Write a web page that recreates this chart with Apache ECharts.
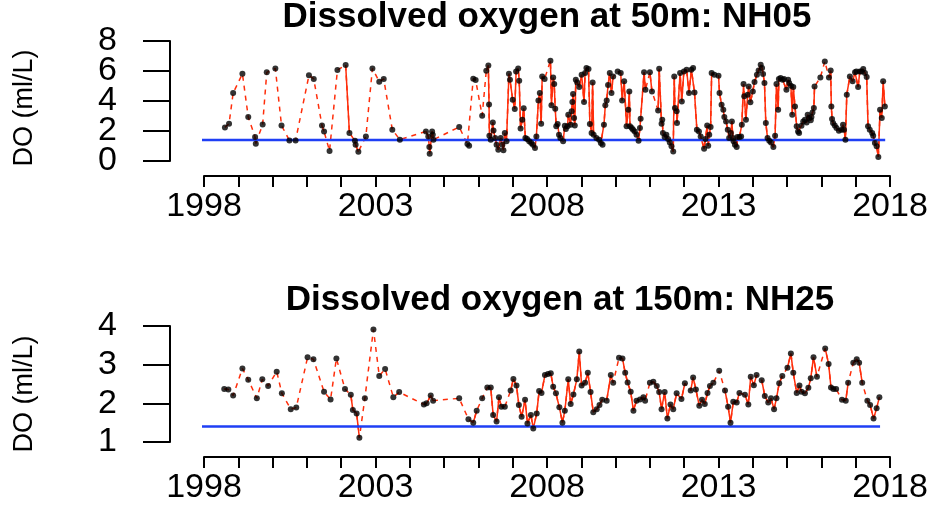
<!DOCTYPE html>
<html>
<head>
<meta charset="utf-8">
<script src="https://cdn.jsdelivr.net/npm/echarts@6/dist/echarts.min.js"></script>
<style>
  html, body { margin: 0; padding: 0; background: #fff; }
  #chart { width: 932px; height: 509px; }
</style>
</head>
<body>
<div id="chart"></div>
<script>
// Station NH05, 50 m: sample dates (decimal years) and dissolved oxygen (ml/L)
const t50 = [
  1998.61, 1998.73, 1998.85, 1999.12, 1999.29, 1999.49, 1999.51, 1999.71, 1999.83, 2000.08,
  2000.26, 2000.49, 2000.67, 2001.06, 2001.20, 2001.44, 2001.50, 2001.66, 2001.89, 2002.13,
  2002.24, 2002.40, 2002.42, 2002.50, 2002.72, 2002.91, 2003.11, 2003.24, 2003.49, 2003.71,
  2004.47, 2004.54, 2004.57, 2004.58, 2004.65, 2004.67, 2004.69, 2005.44, 2005.68, 2005.73,
  2005.85, 2005.92, 2006.11, 2006.23, 2006.29, 2006.31, 2006.32, 2006.36, 2006.42, 2006.44,
  2006.49, 2006.53, 2006.58, 2006.65, 2006.70, 2006.73, 2006.77, 2006.82, 2006.89, 2006.92,
  2007.00, 2007.06, 2007.10, 2007.16, 2007.19, 2007.23, 2007.28, 2007.32, 2007.37, 2007.42,
  2007.48, 2007.54, 2007.59, 2007.65, 2007.69, 2007.75, 2007.79, 2007.83, 2007.86, 2007.93,
  2008.10, 2008.13, 2008.18, 2008.21, 2008.24, 2008.27, 2008.31, 2008.35, 2008.39, 2008.47,
  2008.52, 2008.55, 2008.60, 2008.62, 2008.69, 2008.72, 2008.74, 2008.76, 2008.79, 2008.81,
  2008.84, 2008.88, 2008.94, 2009.01, 2009.08, 2009.11, 2009.15, 2009.21, 2009.25, 2009.30,
  2009.33, 2009.36, 2009.44, 2009.52, 2009.57, 2009.62, 2009.66, 2009.70, 2009.74, 2009.78,
  2009.83, 2009.88, 2009.93, 2010.06, 2010.15, 2010.19, 2010.25, 2010.32, 2010.37, 2010.40,
  2010.42, 2010.47, 2010.51, 2010.56, 2010.61, 2010.67, 2010.71, 2010.73, 2010.83, 2010.87,
  2011.00, 2011.06, 2011.24, 2011.27, 2011.34, 2011.36, 2011.38, 2011.43, 2011.48, 2011.53,
  2011.58, 2011.63, 2011.68, 2011.71, 2011.73, 2011.78, 2011.79, 2011.88, 2011.93, 2011.99,
  2012.07, 2012.14, 2012.21, 2012.26, 2012.30, 2012.37, 2012.43, 2012.48, 2012.58, 2012.62,
  2012.67, 2012.70, 2012.73, 2012.77, 2012.80, 2012.88, 2013.00, 2013.03, 2013.09, 2013.14,
  2013.17, 2013.22, 2013.27, 2013.31, 2013.36, 2013.39, 2013.42, 2013.44, 2013.48, 2013.53,
  2013.55, 2013.61, 2013.66, 2013.68, 2013.73, 2013.75, 2013.80, 2013.85, 2013.88, 2013.93,
  2014.00, 2014.05, 2014.12, 2014.17, 2014.23, 2014.27, 2014.30, 2014.34, 2014.38, 2014.43,
  2014.48, 2014.53, 2014.60, 2014.65, 2014.69, 2014.74, 2014.76, 2014.81, 2014.87, 2014.91,
  2014.98, 2015.03, 2015.06, 2015.11, 2015.15, 2015.18, 2015.23, 2015.28, 2015.32, 2015.35,
  2015.42, 2015.47, 2015.52, 2015.57, 2015.60, 2015.64, 2015.69, 2015.71, 2015.74, 2015.78,
  2015.80, 2015.97, 2016.10, 2016.22, 2016.27, 2016.29, 2016.31, 2016.34, 2016.39, 2016.44,
  2016.51, 2016.59, 2016.63, 2016.66, 2016.70, 2016.74, 2016.83, 2016.91, 2016.98, 2017.02,
  2017.07, 2017.12, 2017.17, 2017.22, 2017.27, 2017.32, 2017.36, 2017.41, 2017.48, 2017.51,
  2017.56, 2017.61, 2017.66, 2017.71, 2017.76, 2017.80, 2017.85
];
const do50 = [
  2.24, 2.49, 4.53, 5.82, 2.93, 1.60, 1.15, 2.44, 5.91, 6.17,
  2.37, 1.37, 1.37, 5.71, 5.47, 2.37, 1.97, 0.67, 6.07, 6.40,
  1.87, 1.35, 1.09, 0.62, 1.64, 6.17, 5.29, 5.47, 2.09, 1.42,
  1.97, 1.64, 0.93, 0.49, 1.97, 1.75, 1.42, 2.27, 1.13, 1.02,
  5.49, 5.40, 3.02, 6.02, 6.37, 3.77, 1.69, 1.42, 2.57, 2.04,
  1.53, 1.09, 0.75, 1.53, 1.09, 0.71, 1.87, 1.31, 5.82, 5.42,
  4.09, 3.47, 5.97, 6.17, 5.35, 2.17, 2.75, 3.51, 1.53, 1.47,
  1.31, 1.20, 1.09, 0.87, 1.64, 4.04, 4.53, 2.49, 5.64, 5.47,
  6.69, 3.71, 5.57, 5.13, 3.49, 2.31, 2.47, 1.75, 1.53, 1.31,
  2.35, 2.13, 2.31, 3.09, 2.42, 3.31, 3.93, 4.47, 2.87, 2.37,
  5.42, 5.24, 4.93, 5.75, 3.93, 5.87, 6.20, 6.13, 2.47, 1.87,
  5.24, 1.75, 1.53, 1.42, 1.20, 1.09, 2.42, 3.71, 4.04, 5.07,
  5.87, 4.53, 5.64, 5.97, 5.87, 4.04, 5.31, 2.31, 3.42, 4.64,
  2.31, 2.20, 2.09, 1.97, 1.75, 1.35, 2.20, 2.82, 5.91, 4.75,
  5.91, 4.64, 3.37, 6.15, 2.49, 2.75, 1.87, 1.60, 1.75, 1.47,
  1.24, 0.98, 0.64, 5.64, 3.53, 3.31, 2.53, 5.87, 3.97, 5.97,
  6.09, 4.53, 6.09, 6.20, 4.57, 2.09, 1.97, 1.64, 0.82, 1.47,
  2.37, 1.02, 1.75, 2.27, 5.87, 5.75, 5.69, 4.53, 3.75, 3.42,
  2.93, 2.64, 2.09, 1.53, 1.87, 2.64, 1.53, 1.31, 1.09, 0.93,
  1.60, 1.60, 1.64, 2.42, 5.13, 4.31, 2.75, 4.42, 4.97, 3.91,
  4.64, 5.27, 5.75, 6.04, 6.42, 6.20, 5.80, 5.20, 2.53, 1.53,
  1.35, 1.24, 0.93, 1.69, 5.13, 3.42, 5.47, 5.53, 5.42, 5.47,
  4.75, 5.42, 5.20, 5.02, 3.09, 4.93, 3.64, 2.31, 1.97, 1.87,
  2.35, 2.64, 2.75, 2.57, 3.09, 2.87, 2.71, 2.93, 3.24, 3.53,
  4.97, 5.57, 6.64, 5.57, 6.04, 3.64, 2.80, 2.53, 2.37, 2.20,
  2.02, 2.09, 2.42, 2.09, 1.42, 4.42, 5.64, 5.31, 5.91, 5.97,
  4.93, 5.97, 5.97, 6.13, 5.87, 5.60, 2.31, 2.09, 1.87, 1.69,
  1.20, 0.98, 0.27, 3.42, 2.87, 5.31, 3.64
];

// Station NH25, 150 m
const t150 = [
  1998.59, 1998.71, 1998.85, 1999.12, 1999.29, 1999.54, 1999.70, 1999.87, 2000.12, 2000.27,
  2000.53, 2000.69, 2001.02, 2001.19, 2001.50, 2001.69, 2001.86, 2002.11, 2002.28, 2002.34,
  2002.45, 2002.53, 2002.69, 2002.94, 2003.11, 2003.28, 2003.52, 2003.69, 2004.41, 2004.49,
  2004.61, 2004.68, 2005.44, 2005.71, 2005.85, 2005.95, 2006.11, 2006.26, 2006.36, 2006.43,
  2006.53, 2006.60, 2006.67, 2006.77, 2006.94, 2007.02, 2007.11, 2007.18, 2007.26, 2007.36,
  2007.43, 2007.53, 2007.60, 2007.70, 2007.77, 2007.84, 2007.94, 2008.03, 2008.11, 2008.18,
  2008.26, 2008.36, 2008.45, 2008.52, 2008.62, 2008.69, 2008.77, 2008.87, 2008.94, 2009.01,
  2009.11, 2009.19, 2009.27, 2009.35, 2009.45, 2009.53, 2009.61, 2009.74, 2009.86, 2009.93,
  2010.10, 2010.20, 2010.28, 2010.35, 2010.44, 2010.52, 2010.61, 2010.71, 2010.81, 2010.86,
  2011.00, 2011.10, 2011.20, 2011.27, 2011.34, 2011.43, 2011.51, 2011.60, 2011.68, 2011.78,
  2011.92, 2012.02, 2012.19, 2012.26, 2012.34, 2012.44, 2012.52, 2012.60, 2012.68, 2012.75,
  2012.85, 2013.02, 2013.19, 2013.28, 2013.35, 2013.43, 2013.53, 2013.61, 2013.77, 2013.87,
  2013.94, 2014.03, 2014.11, 2014.26, 2014.35, 2014.45, 2014.53, 2014.62, 2014.69, 2014.77,
  2014.86, 2015.01, 2015.11, 2015.18, 2015.28, 2015.36, 2015.42, 2015.52, 2015.62, 2015.69,
  2015.77, 2015.87, 2016.11, 2016.21, 2016.28, 2016.35, 2016.43, 2016.60, 2016.71, 2016.78,
  2016.93, 2017.03, 2017.10, 2017.19, 2017.34, 2017.42, 2017.52, 2017.61, 2017.69
];
const do150 = [
  2.37, 2.36, 2.20, 2.90, 2.61, 2.13, 2.62, 2.45, 2.82, 2.26,
  1.85, 1.89, 3.19, 3.14, 2.30, 2.10, 3.16, 2.37, 2.22, 1.83,
  1.74, 1.11, 2.13, 3.91, 2.71, 2.89, 2.16, 2.29, 1.97, 2.00,
  2.20, 2.07, 2.13, 1.59, 1.50, 1.81, 2.13, 2.41, 2.41, 1.70,
  1.53, 2.16, 1.91, 1.91, 2.33, 2.63, 2.46, 1.96, 1.65, 2.09,
  1.48, 1.70, 1.35, 1.74, 2.32, 2.27, 2.73, 2.76, 2.78, 2.43,
  2.26, 1.90, 1.50, 1.81, 2.62, 1.98, 2.23, 2.62, 3.34, 2.46,
  2.53, 2.79, 2.29, 1.77, 1.85, 1.96, 2.09, 2.07, 2.73, 2.53,
  3.18, 3.16, 2.79, 2.54, 2.30, 1.81, 2.07, 2.10, 2.16, 2.07,
  2.53, 2.56, 2.45, 2.29, 1.85, 2.29, 1.61, 1.97, 1.85, 2.26,
  2.11, 2.52, 2.33, 2.67, 2.36, 1.94, 2.09, 1.98, 2.27, 2.45,
  2.53, 2.84, 2.33, 1.91, 1.50, 2.04, 2.02, 2.27, 2.22, 1.97,
  2.69, 2.47, 2.73, 2.60, 2.19, 2.02, 2.13, 1.85, 2.13, 2.52,
  2.71, 2.92, 3.29, 2.79, 2.27, 2.46, 2.30, 2.26, 2.40, 2.65,
  3.19, 2.69, 3.42, 3.02, 2.41, 2.37, 2.37, 2.09, 2.07, 2.53,
  3.05, 3.14, 3.05, 2.53, 2.07, 1.96, 1.61, 1.87, 2.16
];

// Axis ticks and labelled years
const yearTicks = [1998, 2003, 2008, 2013, 2018];
const yTicks50 = [0, 2, 4, 6, 8];
const yTicks150 = [1, 2, 3, 4];
const hypoxia = 1.4;           // hypoxia threshold, ml/L
const hypoxiaSpan50 = [1997.85, 2017.86];
const hypoxiaSpan150 = [1997.85, 2017.71];

const FONT = '"Liberation Sans", Arial, Helvetica, sans-serif';
const RED = '#ff2d0a';
const BLUE = '#1f3ff5';

// one minor tick per year between the first and last labelled year
const yearMinor = [];
for (let y = yearTicks[0]; y <= yearTicks[yearTicks.length - 1]; y++) yearMinor.push(y);

const pts = (t, v) => t.map((x, i) => [x, v[i]]);

// Consecutive samples closer than maxGap are joined with a solid line;
// longer gaps are bridged only by the dashed line underneath.
function solidRuns(t, v, maxGap) {
  const out = [];
  for (let i = 0; i < t.length; i++) {
    out.push([t[i], v[i]]);
    if (i < t.length - 1 && t[i + 1] - t[i] > maxGap) {
      out.push([(t[i] + t[i + 1]) / 2, '-']);
    }
  }
  return out;
}

const plainNumber = v => String(Math.round(v * 1000) / 1000);

function xAxisFor(gridIndex, offset) {
  return {
    type: 'value', gridIndex, position: 'bottom', min: 1998, max: 2018, interval: 1, offset,
    axisLine: { show: true, onZero: false, lineStyle: { color: '#000', width: 2 } },
    axisTick: { show: true, length: 11, interval: 0, customValues: yearMinor, lineStyle: { color: '#000', width: 2 } },
    axisLabel: {
      show: true, margin: 14, color: '#000', fontSize: 34, fontFamily: FONT, interval: 0,
      customValues: yearTicks, formatter: plainNumber, hideOverlap: false
    },
    splitLine: { show: false }
  };
}

// The tall labels sit closer together than their own height, so each panel's
// ticks are split over two coincident left axes (alternate ticks on each) so
// that every label is drawn.
function yAxisFor(gridIndex, ticks, parity) {
  const own = ticks.filter((_, i) => i % 2 === parity);
  return {
    type: 'value', gridIndex, position: 'left', min: ticks[0], max: ticks[ticks.length - 1],
    interval: ticks[1] - ticks[0], offset: 34,
    axisLine: { show: parity === 0, onZero: false, lineStyle: { color: '#000', width: 2 } },
    axisTick: { show: true, length: 27, interval: 0, customValues: own, lineStyle: { color: '#000', width: 2 } },
    axisLabel: {
      show: true, margin: 53, color: '#000', fontSize: 34, lineHeight: 24, fontFamily: FONT, interval: 0,
      customValues: own, formatter: plainNumber, showMinLabel: true, showMaxLabel: true, hideOverlap: false
    },
    splitLine: { show: false }
  };
}

function panelSeries(idx, t, v, maxGap, span) {
  const common = { xAxisIndex: idx, yAxisIndex: idx, animation: false, silent: true };
  return [
    Object.assign({
      type: 'line', data: pts(t, v), symbol: 'none', z: 2,
      lineStyle: { color: RED, width: 1.5, type: [5, 5] }
    }, common),
    Object.assign({
      type: 'line', data: solidRuns(t, v, maxGap), symbol: 'none', connectNulls: false, z: 3,
      lineStyle: { color: RED, width: 1.5 }
    }, common),
    Object.assign({
      type: 'line', data: [[span[0], hypoxia], [span[1], hypoxia]], symbol: 'none', clip: false, z: 4,
      lineStyle: { color: BLUE, width: 2.5 }
    }, common),
    Object.assign({
      type: 'scatter', data: pts(t, v), symbol: 'circle', symbolSize: 6, z: 5,
      itemStyle: { color: '#000' }
    }, common)
  ];
}

const chart = echarts.init(document.getElementById('chart'), null, { renderer: 'canvas' });

chart.setOption({
  backgroundColor: '#fff',
  animation: false,
  grid: [
    { left: 204, width: 686, top: 41, height: 120, containLabel: false, outerBoundsMode: 'none' },
    { left: 204, width: 686, top: 326, height: 116, containLabel: false, outerBoundsMode: 'none' }
  ],
  xAxis: [xAxisFor(0, 15), xAxisFor(1, 15)],
  yAxis: [
    yAxisFor(0, yTicks50, 0), yAxisFor(1, yTicks150, 0),
    yAxisFor(0, yTicks50, 1), yAxisFor(1, yTicks150, 1)
  ],
  series: [
    ...panelSeries(0, t50, do50, 0.11, hypoxiaSpan50),
    ...panelSeries(1, t150, do150, 0.13, hypoxiaSpan150)
  ],
  graphic: [
    { type: 'text', x: 547, y: 17, style: { text: 'Dissolved oxygen at 50m: NH05', font: 'bold 35px ' + FONT, fill: '#000', textAlign: 'center', textVerticalAlign: 'middle' } },
    { type: 'text', x: 560, y: 300, style: { text: 'Dissolved oxygen at 150m: NH25', font: 'bold 35px ' + FONT, fill: '#000', textAlign: 'center', textVerticalAlign: 'middle' } },
    { type: 'text', x: 25, y: 108, rotation: Math.PI / 2, style: { text: 'DO (ml/L)', font: '27px ' + FONT, fill: '#000', textAlign: 'center', textVerticalAlign: 'middle' } },
    { type: 'text', x: 25, y: 394, rotation: Math.PI / 2, style: { text: 'DO (ml/L)', font: '27px ' + FONT, fill: '#000', textAlign: 'center', textVerticalAlign: 'middle' } }
  ]
});
</script>
</body>
</html>
